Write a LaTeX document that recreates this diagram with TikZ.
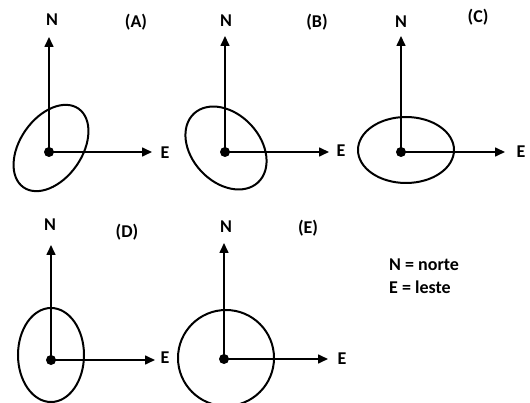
\documentclass[tikz,border=0pt]{standalone}
\usepackage{fontspec}
\setmainfont{Carlito}
\usetikzlibrary{arrows.meta}

\begin{document}
\begin{tikzpicture}[
    x=1pt, y=1pt,
    dot/.style={circle, fill=black, inner sep=0pt, minimum size=10pt},
    axis/.style={-{Triangle[length=10pt, width=9pt]}, line width=1.6pt},
    ring/.style={line width=2pt},
    lbl/.style={font=\bfseries\fontsize{18}{20}\selectfont, inner sep=0pt}
]
\useasboundingbox[fill=white] (0,0) rectangle (530,-403);

% (A)
\node[dot] (oA) at (49,-152) {};
\coordinate (nA) at (49,-37);
\coordinate (eA) at (152,-152);
\draw[ring, rotate around={55:(51,-148)}] (51,-148) ellipse (48 and 31);
\draw[axis] (oA.center) -- (nA);
\draw[axis] (oA.center) -- (eA);
\node[lbl] (labNA) at (52,-20) {N};
\node[lbl] (labEA) at (165,-153) {E};
\node[lbl] (tagA) at (136,-22) {(A)};

% (B)
\node[dot] (oB) at (225,-152) {};
\coordinate (nB) at (225,-36);
\coordinate (eB) at (329,-152);
\draw[ring, rotate around={-47:(226,-148)}] (226,-148) ellipse (47 and 34);
\draw[axis] (oB.center) -- (nB);
\draw[axis] (oB.center) -- (eB);
\node[lbl] (labNB) at (226,-21) {N};
\node[lbl] (labEB) at (341,-151) {E};
\node[lbl] (tagB) at (317,-22) {(B)};

% (C)
\node[dot] (oC) at (401,-152) {};
\coordinate (nC) at (401,-36);
\coordinate (eC) at (505,-152);
\draw[ring] (406,-150) ellipse (48 and 33);
\draw[axis] (oC.center) -- (nC);
\draw[axis] (oC.center) -- (eC);
\node[lbl] (labNC) at (401,-22) {N};
\node[lbl] (labEC) at (521,-152) {E};
\node[lbl] (tagC) at (478,-17) {(C)};

% (D)
\node[dot] (oD) at (51,-360) {};
\coordinate (nD) at (51,-245);
\coordinate (eD) at (155,-360);
\draw[ring] (51,-355) ellipse (33 and 47);
\draw[axis] (oD.center) -- (nD);
\draw[axis] (oD.center) -- (eD);
\node[lbl] (labND) at (50,-225) {N};
\node[lbl] (labED) at (165,-358) {E};
\node[lbl] (tagD) at (127,-232) {(D)};

% (E)
\node[dot] (oE) at (224,-359) {};
\coordinate (nE) at (224,-243);
\coordinate (eE) at (328,-359);
\draw[ring] (226,-358) circle (48);
\draw[axis] (oE.center) -- (nE);
\draw[axis] (oE.center) -- (eE);
\node[lbl] (labNE) at (226,-227) {N};
\node[lbl] (labEE) at (342,-359) {E};
\node[lbl] (tagE) at (308,-228) {(E)};

% legend
\node[lbl, anchor=west] (legN) at (389,-265) {N = norte};
\node[lbl, anchor=west] (legE) at (389,-287) {E = leste};
\end{tikzpicture}
\end{document}
